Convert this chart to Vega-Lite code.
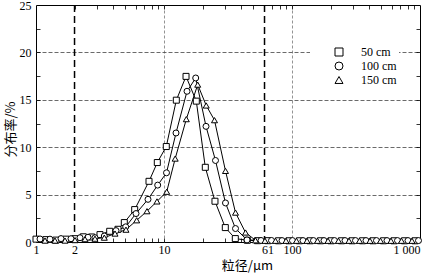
{
  "$schema": "https://vega.github.io/schema/vega-lite/v6.json",
  "width": 384,
  "height": 237,
  "autosize": {"type": "none"},
  "padding": {"left": 36, "top": 5, "right": 11, "bottom": 32},
  "config": {
    "view": {"stroke": "black", "strokeWidth": 1},
    "font": "Liberation Serif",
    "axis": {
      "labelFont": "Liberation Serif",
      "labelFontSize": 12,
      "labelColor": "black",
      "tickColor": "black",
      "tickWidth": 0.8,
      "domain": false,
      "labelOverlap": false,
      "labelBound": false,
      "labelFlush": false,
      "titleFont": "Noto Sans CJK SC",
      "titleFontSize": 13,
      "titleFontWeight": "normal",
      "titleColor": "black"
    }
  },
  "datasets": {
    "bounds": [{"x": 2}, {"x": 61}],
    "d": [
      {"s": "50 cm", "x": 1.0, "y": 0.3},
      {"s": "50 cm", "x": 1.197, "y": 0.25},
      {"s": "50 cm", "x": 1.433, "y": 0.2},
      {"s": "50 cm", "x": 1.716, "y": 0.3},
      {"s": "50 cm", "x": 2.017, "y": 0.35},
      {"s": "50 cm", "x": 2.342, "y": 0.55},
      {"s": "50 cm", "x": 2.724, "y": 0.53},
      {"s": "50 cm", "x": 3.162, "y": 0.78},
      {"s": "50 cm", "x": 3.765, "y": 1.13},
      {"s": "50 cm", "x": 4.371, "y": 1.34},
      {"s": "50 cm", "x": 4.896, "y": 2.05},
      {"s": "50 cm", "x": 5.903, "y": 3.42},
      {"s": "50 cm", "x": 7.636, "y": 6.4},
      {"s": "50 cm", "x": 8.866, "y": 8.38},
      {"s": "50 cm", "x": 10.42, "y": 10.07},
      {"s": "50 cm", "x": 12.48, "y": 14.96},
      {"s": "50 cm", "x": 14.86, "y": 17.47},
      {"s": "50 cm", "x": 17.88, "y": 14.86},
      {"s": "50 cm", "x": 21.02, "y": 7.88},
      {"s": "50 cm", "x": 25.02, "y": 4.3},
      {"s": "50 cm", "x": 30.13, "y": 1.52},
      {"s": "50 cm", "x": 36.06, "y": 0.36},
      {"s": "50 cm", "x": 44.76, "y": 0.18},
      {"s": "50 cm", "x": 53.77, "y": 0.14},
      {"s": "50 cm", "x": 64.94, "y": 0.14},
      {"s": "50 cm", "x": 78.44, "y": 0.13},
      {"s": "50 cm", "x": 94.75, "y": 0.13},
      {"s": "50 cm", "x": 114.4, "y": 0.13},
      {"s": "50 cm", "x": 138.2, "y": 0.13},
      {"s": "50 cm", "x": 167.0, "y": 0.13},
      {"s": "50 cm", "x": 201.7, "y": 0.13},
      {"s": "50 cm", "x": 243.6, "y": 0.13},
      {"s": "50 cm", "x": 294.3, "y": 0.13},
      {"s": "50 cm", "x": 355.4, "y": 0.13},
      {"s": "50 cm", "x": 429.3, "y": 0.13},
      {"s": "50 cm", "x": 518.6, "y": 0.13},
      {"s": "50 cm", "x": 626.4, "y": 0.13},
      {"s": "50 cm", "x": 756.6, "y": 0.13},
      {"s": "50 cm", "x": 914.2, "y": 0.13},
      {"s": "100 cm", "x": 1.075, "y": 0.32},
      {"s": "100 cm", "x": 1.286, "y": 0.3},
      {"s": "100 cm", "x": 1.568, "y": 0.36},
      {"s": "100 cm", "x": 1.877, "y": 0.35},
      {"s": "100 cm", "x": 2.207, "y": 0.45},
      {"s": "100 cm", "x": 2.549, "y": 0.5},
      {"s": "100 cm", "x": 2.89, "y": 0.45},
      {"s": "100 cm", "x": 3.417, "y": 0.63},
      {"s": "100 cm", "x": 4.217, "y": 1.2},
      {"s": "100 cm", "x": 5.021, "y": 1.6},
      {"s": "100 cm", "x": 6.043, "y": 3.0},
      {"s": "100 cm", "x": 7.499, "y": 4.5},
      {"s": "100 cm", "x": 8.929, "y": 6.0},
      {"s": "100 cm", "x": 10.46, "y": 7.3},
      {"s": "100 cm", "x": 12.41, "y": 11.5},
      {"s": "100 cm", "x": 15.13, "y": 15.9},
      {"s": "100 cm", "x": 17.69, "y": 17.3},
      {"s": "100 cm", "x": 21.29, "y": 12.2},
      {"s": "100 cm", "x": 25.25, "y": 8.6},
      {"s": "100 cm", "x": 30.23, "y": 4.12},
      {"s": "100 cm", "x": 36.2, "y": 1.42},
      {"s": "100 cm", "x": 44.52, "y": 0.22},
      {"s": "100 cm", "x": 57.26, "y": 0.16},
      {"s": "100 cm", "x": 69.17, "y": 0.16},
      {"s": "100 cm", "x": 83.56, "y": 0.15},
      {"s": "100 cm", "x": 100.9, "y": 0.15},
      {"s": "100 cm", "x": 121.9, "y": 0.15},
      {"s": "100 cm", "x": 147.2, "y": 0.15},
      {"s": "100 cm", "x": 177.8, "y": 0.15},
      {"s": "100 cm", "x": 214.8, "y": 0.15},
      {"s": "100 cm", "x": 259.5, "y": 0.15},
      {"s": "100 cm", "x": 313.4, "y": 0.15},
      {"s": "100 cm", "x": 378.5, "y": 0.15},
      {"s": "100 cm", "x": 457.2, "y": 0.15},
      {"s": "100 cm", "x": 552.3, "y": 0.15},
      {"s": "100 cm", "x": 667.2, "y": 0.15},
      {"s": "100 cm", "x": 805.8, "y": 0.15},
      {"s": "100 cm", "x": 973.4, "y": 0.15},
      {"s": "150 cm", "x": 1.176, "y": 0.15},
      {"s": "150 cm", "x": 1.407, "y": 0.15},
      {"s": "150 cm", "x": 1.685, "y": 0.15},
      {"s": "150 cm", "x": 2.017, "y": 0.2},
      {"s": "150 cm", "x": 2.415, "y": 0.3},
      {"s": "150 cm", "x": 2.89, "y": 0.35},
      {"s": "150 cm", "x": 3.417, "y": 0.46},
      {"s": "150 cm", "x": 4.142, "y": 0.89},
      {"s": "150 cm", "x": 5.048, "y": 1.3},
      {"s": "150 cm", "x": 6.119, "y": 2.29},
      {"s": "150 cm", "x": 7.365, "y": 3.25},
      {"s": "150 cm", "x": 8.816, "y": 4.28},
      {"s": "150 cm", "x": 10.5, "y": 5.3},
      {"s": "150 cm", "x": 12.23, "y": 8.8},
      {"s": "150 cm", "x": 14.94, "y": 12.96},
      {"s": "150 cm", "x": 18.34, "y": 16.6},
      {"s": "150 cm", "x": 21.37, "y": 14.4},
      {"s": "150 cm", "x": 24.8, "y": 12.85},
      {"s": "150 cm", "x": 30.23, "y": 7.5},
      {"s": "150 cm", "x": 36.2, "y": 3.1},
      {"s": "150 cm", "x": 43.33, "y": 1.0},
      {"s": "150 cm", "x": 51.86, "y": 0.18},
      {"s": "150 cm", "x": 61.52, "y": 0.13},
      {"s": "150 cm", "x": 74.31, "y": 0.13},
      {"s": "150 cm", "x": 89.79, "y": 0.13},
      {"s": "150 cm", "x": 108.4, "y": 0.13},
      {"s": "150 cm", "x": 131.0, "y": 0.13},
      {"s": "150 cm", "x": 158.2, "y": 0.13},
      {"s": "150 cm", "x": 191.1, "y": 0.13},
      {"s": "150 cm", "x": 230.8, "y": 0.13},
      {"s": "150 cm", "x": 278.7, "y": 0.13},
      {"s": "150 cm", "x": 336.7, "y": 0.13},
      {"s": "150 cm", "x": 406.7, "y": 0.13},
      {"s": "150 cm", "x": 491.3, "y": 0.13},
      {"s": "150 cm", "x": 593.4, "y": 0.13},
      {"s": "150 cm", "x": 716.9, "y": 0.13},
      {"s": "150 cm", "x": 865.9, "y": 0.13}
    ]
  },
  "layer": [
    {
      "data": {"name": "bounds"},
      "mark": {"type": "rule", "color": "black", "strokeWidth": 1.5, "strokeDash": [7, 4]},
      "encoding": {
        "x": {
          "field": "x", "type": "quantitative",
          "scale": {"type": "log", "domain": [1, 1000]},
          "axis": {
            "orient": "top",
            "values": [2, 3, 4, 5, 6, 7, 8, 9, 10, 20, 30, 40, 50, 60, 70, 80, 90, 100, 200, 300, 400, 500, 600, 700, 800, 900],
            "labels": false, "tickSize": -4, "grid": false, "title": null
          }
        }
      }
    },
    {
      "data": {"name": "d"},
      "mark": {"type": "line", "color": "black", "strokeWidth": 1},
      "encoding": {
        "x": {
          "field": "x", "type": "quantitative",
          "scale": {"type": "log", "domain": [1, 1000]},
          "axis": {
            "orient": "bottom",
            "values": [1, 2, 3, 4, 5, 6, 7, 8, 9, 10, 20, 30, 40, 50, 60, 61, 70, 80, 90, 100, 200, 300, 400, 500, 600, 700, 800, 900, 1000],
            "labelExpr": "indexof([1,2,10,61,100], datum.value) >= 0 ? toString(datum.value) : (datum.value === 1000 ? '1 000' : '')",
            "labelAlign": {"condition": {"test": "datum.value === 1000", "value": "right"}, "value": "center"},
            "labelOffset": {"condition": {"test": "datum.value === 61", "value": 3}, "value": 0},
            "labelPadding": 6,
            "tickSize": -4,
            "tickOpacity": {"condition": {"test": "datum.value === 61 || datum.value === 1 || datum.value === 1000", "value": 0}, "value": 1},
            "grid": true,
            "gridColor": "#777777",
            "gridDash": [3, 2],
            "gridWidth": 0.8,
            "gridOpacity": {"condition": {"test": "datum.value === 10 || datum.value === 100", "value": 1}, "value": 0},
            "title": "粒径/μm",
            "titleX": 211,
            "titleY": 23,
            "titleBaseline": "middle",
            "titleAlign": "center"
          }
        },
        "y": {
          "field": "y", "type": "quantitative",
          "scale": {"domain": [0, 25], "nice": false},
          "axis": {
            "orient": "left",
            "values": [0, 2.5, 5, 7.5, 10, 12.5, 15, 17.5, 20, 22.5, 25],
            "labelExpr": "datum.value % 5 === 0 ? toString(datum.value) : ''",
            "labelPadding": 9,
            "tickSize": -4,
            "tickOpacity": {"condition": {"test": "datum.value === 0 || datum.value === 25", "value": 0}, "value": 1},
            "grid": true,
            "gridColor": "#444444",
            "gridDash": [4, 2],
            "gridWidth": 0.8,
            "gridOpacity": {"condition": {"test": "datum.value % 5 === 0 && datum.value > 0 && datum.value < 25", "value": 1}, "value": 0},
            "title": "分布率/%",
            "titleX": -26,
            "titleY": 124,
            "titleAngle": -90,
            "titleBaseline": "middle",
            "titleAlign": "center"
          }
        },
        "detail": {"field": "s", "type": "nominal"}
      }
    },
    {
      "data": {"name": "d"},
      "mark": {"type": "point", "filled": false, "stroke": "black", "fill": "white", "fillOpacity": 1, "strokeWidth": 1, "size": 36, "opacity": 1},
      "encoding": {
        "x": {"field": "x", "type": "quantitative", "scale": {"type": "log", "domain": [1, 1000]}, "axis": null},
        "y": {
          "field": "y", "type": "quantitative",
          "scale": {"domain": [0, 25], "nice": false},
          "axis": {
            "orient": "right",
            "values": [2.5, 5, 7.5, 10, 12.5, 15, 17.5, 20, 22.5],
            "labels": false, "tickSize": -4, "grid": false, "title": null
          }
        },
        "shape": {
          "field": "s", "type": "nominal",
          "scale": {"domain": ["50 cm", "100 cm", "150 cm"], "range": ["square", "circle", "triangle-up"]},
          "legend": {
            "orient": "none",
            "legendX": 274,
            "legendY": 39,
            "title": null,
            "fillColor": "white",
            "padding": 2,
            "symbolSize": 64,
            "symbolOffset": 21,
            "labelOffset": 16,
            "rowPadding": 2,
            "labelFont": "Liberation Serif",
            "labelFontSize": 12,
            "labelColor": "black",
            "symbolStrokeWidth": 1,
            "encode": {
              "symbols": {
                "shape": {"signal": "datum.value === '50 cm' ? 'M-5,0H-0.6M0.6,0H5M-0.6,-0.6H0.6V0.6H-0.6Z' : (datum.value === '100 cm' ? 'M-5,0H-0.7M0.7,0H5M-0.7,0A0.7,0.7,0,1,0,0.7,0A0.7,0.7,0,1,0,-0.7,0Z' : 'M-5,0H-0.45M0.45,0H5M0,-0.75L0.8,0.6L-0.8,0.6Z')"},
                "stroke": {"value": "black"},
                "fill": {"value": "white"}
              }
            }
          }
        }
      }
    }
  ],
  "resolve": {"axis": {"x": "independent", "y": "independent"}}
}
